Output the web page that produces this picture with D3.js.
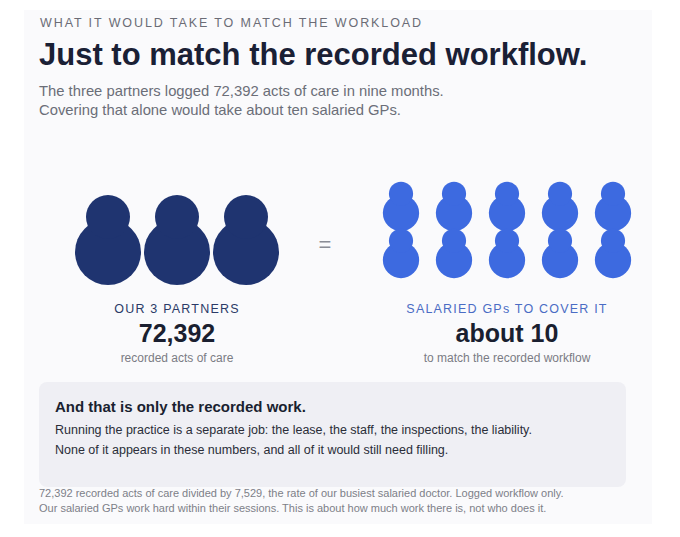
<!DOCTYPE html>
<html>
<head>
<meta charset="utf-8">
<script src="https://cdn.jsdelivr.net/npm/d3@7"></script>
<style>
  body { margin: 0; background: #ffffff; }
  svg { display: block; font-family: "Liberation Sans", Arial, sans-serif; }
</style>
</head>
<body>
<div id="chart"></div>
<script>
// data
const partnerCount = 3
const gpCount = 10
const actsOfCare = 72392
const busiestRate = 7529
const headerLines = ["WHAT IT WOULD TAKE TO MATCH THE WORKLOAD", "Just to match the recorded workflow."]
const subtitleLines = ["The three partners logged 72,392 acts of care in nine months.",
  "Covering that alone would take about ten salaried GPs."]
const groupLabels = ["OUR 3 PARTNERS", "SALARIED GPs TO COVER IT"]
const groupValues = ["72,392", "about 10"]
const groupNotes = ["recorded acts of care", "to match the recorded workflow"]
const calloutLines = ["And that is only the recorded work.",
  "Running the practice is a separate job: the lease, the staff, the inspections, the liability.",
  "None of it appears in these numbers, and all of it would still need filling."]
const footLines = ["72,392 recorded acts of care divided by 7,529, the rate of our busiest salaried doctor. Logged workflow only.",
  "Our salaried GPs work hard within their sessions. This is about how much work there is, not who does it."]

const width = 680, height = 537

const svg = d3.select("#chart").append("svg")
  .attr("width", width)
  .attr("height", height)

// card
svg.append("rect")
  .attr("x", 24).attr("y", 10)
  .attr("width", 628).attr("height", 514)
  .attr("fill", "#fafafc")

// header
svg.append("text")
  .attr("x", 40).attr("y", 27)
  .attr("font-size", 12.5)
  .attr("letter-spacing", 1.9)
  .attr("fill", "#6b6c76")
  .text(headerLines[0])

svg.append("text")
  .attr("x", 39).attr("y", 65)
  .attr("font-size", 31)
  .attr("font-weight", "bold")
  .attr("fill", "#1a2035")
  .text(headerLines[1])

svg.selectAll(".sub")
  .data(subtitleLines)
  .join("text")
  .attr("class", "sub")
  .attr("x", 39)
  .attr("y", (d, i) => 96 + i * 19)
  .attr("font-size", 14.8)
  .attr("fill", "#6b6e78")
  .text(d => d)

// figures: a head circle on top of a body circle
function drawPerson(g, cx, cy, s, color) {
  g.append("circle").attr("cx", cx).attr("cy", cy).attr("r", 33 * s).attr("fill", color)
  g.append("circle").attr("cx", cx).attr("cy", cy - 35 * s).attr("r", 22 * s).attr("fill", color)
}

const xPartner = d3.scalePoint()
  .domain(d3.range(partnerCount))
  .range([108, 246])

const partners = svg.append("g")
d3.range(partnerCount).forEach(i => drawPerson(partners, xPartner(i), 252, 1, "#1f3470"))

const gpCols = 5
const xGp = d3.scalePoint()
  .domain(d3.range(gpCols))
  .range([401, 613])
const yGp = d3.scalePoint()
  .domain(d3.range(gpCount / gpCols))
  .range([213, 260])

const gps = svg.append("g")
d3.range(gpCount).forEach(i => {
  drawPerson(gps, xGp(i % gpCols), yGp(Math.floor(i / gpCols)), 0.55, "#3d6ae0")
})

// equals sign
svg.append("text")
  .attr("x", 325).attr("y", 252)
  .attr("text-anchor", "middle")
  .attr("font-size", 22)
  .attr("fill", "#8a8d96")
  .text("=")

// group captions
const centres = [177, 507]
const labelColours = ["#2b3a67", "#4a6cc4"]
centres.forEach((cx, i) => {
  svg.append("text")
    .attr("x", cx).attr("y", 313)
    .attr("text-anchor", "middle")
    .attr("font-size", 12.5)
    .attr("letter-spacing", 1.2)
    .attr("fill", labelColours[i])
    .text(groupLabels[i])
  svg.append("text")
    .attr("x", cx).attr("y", 342)
    .attr("text-anchor", "middle")
    .attr("font-size", 25)
    .attr("font-weight", "bold")
    .attr("fill", "#1a1f30")
    .text(groupValues[i])
  svg.append("text")
    .attr("x", cx).attr("y", 362)
    .attr("text-anchor", "middle")
    .attr("font-size", 12)
    .attr("fill", "#7a7c84")
    .text(groupNotes[i])
})

// callout
svg.append("rect")
  .attr("x", 39).attr("y", 382)
  .attr("width", 587).attr("height", 105)
  .attr("rx", 8)
  .attr("fill", "#efeff4")

svg.append("text")
  .attr("x", 55).attr("y", 412)
  .attr("font-size", 15)
  .attr("font-weight", "bold")
  .attr("fill", "#1a1f30")
  .text(calloutLines[0])

svg.selectAll(".call")
  .data(calloutLines.slice(1))
  .join("text")
  .attr("class", "call")
  .attr("x", 55)
  .attr("y", (d, i) => 434 + i * 20)
  .attr("font-size", 12.5)
  .attr("fill", "#2a2d38")
  .text(d => d)

// footnote
svg.selectAll(".foot")
  .data(footLines)
  .join("text")
  .attr("class", "foot")
  .attr("x", 39)
  .attr("y", (d, i) => 497 + i * 15)
  .attr("font-size", 11)
  .attr("fill", "#7d7f88")
  .text(d => d)
</script>
</body>
</html>
